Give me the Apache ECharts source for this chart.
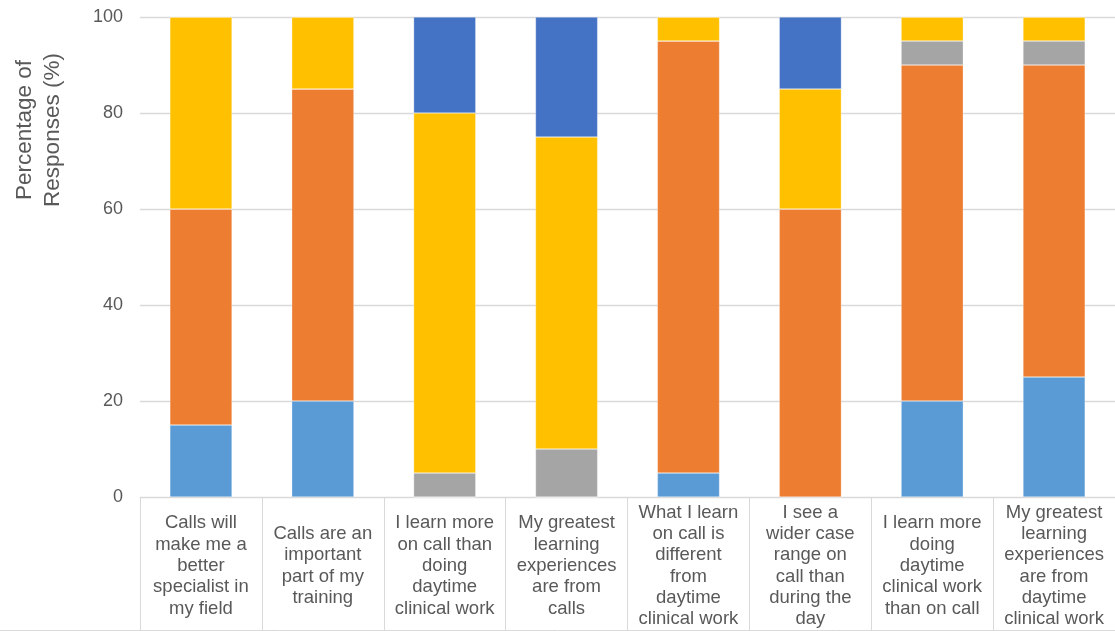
<!DOCTYPE html>
<html>
<head>
<meta charset="utf-8">
<script src="https://cdn.jsdelivr.net/npm/echarts@6/dist/echarts.min.js"></script>
<style>
  html, body { margin: 0; padding: 0; background: #fff; }
  #chart { width: 1115px; height: 631px; }
</style>
</head>
<body>
<div id="chart"></div>
<script>
var categories = [
	'Calls will\nmake me a\nbetter\nspecialist in\nmy field',
	'Calls are an\nimportant\npart of my\ntraining',
	'I learn more\non call than\ndoing\ndaytime\nclinical work',
	'My greatest\nlearning\nexperiences\nare from\ncalls',
	'What I learn\non call is\ndifferent\nfrom\ndaytime\nclinical work',
	'I see a\nwider case\nrange on\ncall than\nduring the\nday',
	'I learn more\ndoing\ndaytime\nclinical work\nthan on call',
	'My greatest\nlearning\nexperiences\nare from\ndaytime\nclinical work'
];
var stronglyAgree    = [15, 20, 0, 0, 5, 0, 20, 25];
var agree            = [45, 65, 0, 0, 90, 60, 70, 65];
var neutral          = [0, 0, 5, 10, 0, 0, 5, 5];
var disagree         = [40, 15, 75, 65, 5, 25, 5, 5];
var stronglyDisagree = [0, 0, 20, 25, 0, 15, 0, 0];
var yTicks = [0, 20, 40, 60, 80, 100];

var font = 'Liberation Sans, Arial, sans-serif';
var grey = '#595959';

function bar(name, data, color) {
	return {
		name: name,
		type: 'bar',
		stack: 'total',
		barCategoryGap: '49%',
		itemStyle: { color: color, borderColor: 'rgba(255,255,255,0.6)', borderWidth: 0.5 },
		data: data
	};
}

var chart = echarts.init(document.getElementById('chart'));
chart.setOption({
	animation: false,
	grid: { left: 140, right: 0, top: 17, bottom: 134 },
	xAxis: {
		type: 'category',
		data: categories,
		axisLine: { lineStyle: { color: '#D9D9D9' } },
		axisTick: { show: true, length: 134, alignWithLabel: false, lineStyle: { color: '#D9D9D9' } },
		axisLabel: {
			interval: 0,
			margin: 69,
			verticalAlign: 'middle',
			align: 'center',
			fontFamily: font,
			fontSize: 18.5,
			lineHeight: 21.3,
			color: grey
		}
	},
	yAxis: {
		type: 'value',
		min: yTicks[0],
		max: yTicks[yTicks.length - 1],
		interval: 20,
		axisLine: { show: false },
		axisTick: { show: false },
		splitLine: { lineStyle: { color: '#D9D9D9', width: 1.3 } },
		axisLabel: { margin: 17, fontFamily: font, fontSize: 18, color: grey }
	},
	graphic: [
		{
			type: 'text',
			x: 39,
			y: 130,
			rotation: Math.PI / 2,
			style: {
				text: 'Percentage of\nResponses (%)',
				align: 'center',
				verticalAlign: 'middle',
				fontFamily: font,
				fontSize: 22.5,
				lineHeight: 28,
				fill: grey
			}
		},
		{
			type: 'line',
			shape: { x1: 0, y1: 630.5, x2: 1115, y2: 630.5 },
			style: { stroke: '#D9D9D9', lineWidth: 1 }
		}
	],
	series: [
		bar('Strongly agree', stronglyAgree, '#5B9BD5'),
		bar('Agree', agree, '#ED7D31'),
		bar('Neutral', neutral, '#A5A5A5'),
		bar('Disagree', disagree, '#FFC000'),
		bar('Strongly disagree', stronglyDisagree, '#4472C4')
	]
});
</script>
</body>
</html>
